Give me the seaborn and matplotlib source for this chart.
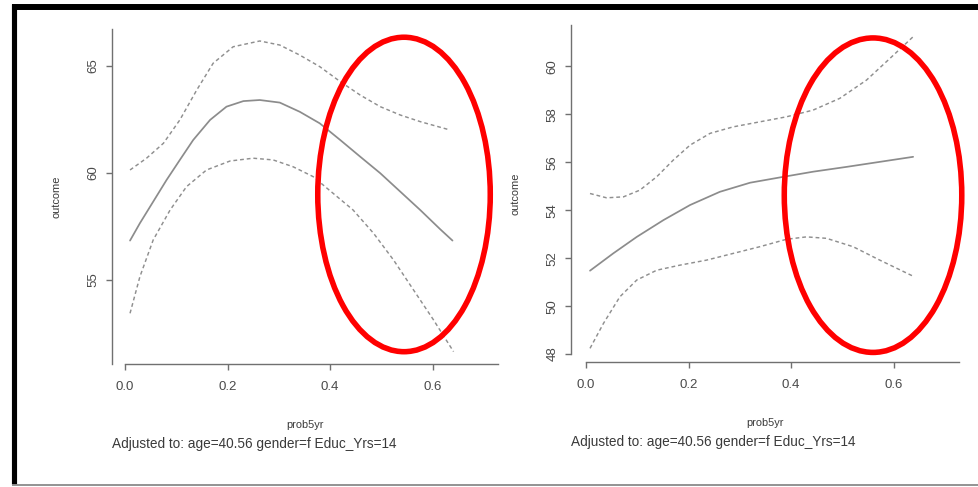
import matplotlib
matplotlib.use("Agg")
import matplotlib.pyplot as plt
from matplotlib.lines import Line2D
from matplotlib.patches import Ellipse
import seaborn as sns
import pandas as pd

# ---------------- data ----------------
# Left panel
left_mid_x = [0.0098, 0.029, 0.055, 0.081, 0.107, 0.133, 0.166, 0.198, 0.231, 0.263,
              0.302, 0.341, 0.380, 0.420, 0.459, 0.498, 0.537, 0.576, 0.615, 0.639]
left_mid_y = [56.84, 57.65, 58.66, 59.67, 60.61, 61.54, 62.48, 63.10, 63.36, 63.41,
              63.29, 62.86, 62.32, 61.54, 60.76, 59.99, 59.13, 58.27, 57.37, 56.84]
left_up_x = [0.0098, 0.042, 0.075, 0.107, 0.140, 0.172, 0.211, 0.263, 0.302, 0.341,
             0.380, 0.420, 0.459, 0.498, 0.537, 0.576, 0.634]
left_up_y = [60.14, 60.69, 61.39, 62.48, 63.88, 65.13, 65.90, 66.17, 65.98, 65.51,
             64.97, 64.27, 63.64, 63.10, 62.71, 62.40, 62.01]
left_lo_x = [0.0098, 0.029, 0.055, 0.088, 0.120, 0.159, 0.205, 0.250, 0.289, 0.328,
             0.367, 0.406, 0.445, 0.485, 0.524, 0.563, 0.602, 0.641]
left_lo_y = [53.44, 55.15, 56.87, 58.27, 59.36, 60.14, 60.56, 60.69, 60.61, 60.29,
             59.83, 59.05, 58.27, 57.18, 55.93, 54.53, 53.13, 51.65]

# Right panel
right_mid_x = [0.0078, 0.053, 0.099, 0.151, 0.203, 0.261, 0.320, 0.378, 0.443, 0.508, 0.573, 0.638]
right_mid_y = [51.48, 52.20, 52.89, 53.59, 54.22, 54.77, 55.15, 55.37, 55.61, 55.81, 56.02, 56.23]
right_up_x = [0.0078, 0.040, 0.073, 0.105, 0.138, 0.170, 0.203, 0.242, 0.287, 0.339,
              0.391, 0.443, 0.495, 0.547, 0.593, 0.638]
right_up_y = [54.70, 54.52, 54.56, 54.84, 55.40, 56.09, 56.72, 57.21, 57.48, 57.69,
              57.90, 58.18, 58.67, 59.43, 60.34, 61.24]
right_lo_x = [0.0078, 0.034, 0.066, 0.099, 0.138, 0.183, 0.235, 0.287, 0.339, 0.391,
              0.430, 0.469, 0.521, 0.573, 0.638]
right_lo_y = [48.24, 49.28, 50.39, 51.09, 51.50, 51.71, 51.92, 52.20, 52.48, 52.79,
              52.89, 52.83, 52.48, 51.92, 51.25]

x_ticks = [0.0, 0.2, 0.4, 0.6]
x_tick_labels = ["0.0", "0.2", "0.4", "0.6"]
left_y_ticks = [55, 60, 65]
right_y_ticks = [48, 50, 52, 54, 56, 58, 60]

x_label = "prob5yr"
y_label = "outcome"
note = "Adjusted to: age=40.56 gender=f Educ_Yrs=14"

# ---------------- style ----------------
sns.set_theme(style="white")
plt.rcParams["font.family"] = ["Liberation Sans", "DejaVu Sans"]

W, H = 979, 487
fig = plt.figure(figsize=(W / 100, H / 100), dpi=100)
fig.patch.set_facecolor("white")

line_col = "#8c8c8c"
dash_col = "#8f8f8f"
axis_col = "#707070"
text_col = "#3a3a3a"
dash_style = (0, (2.6, 2.0))


def panel(ax, mid, up, lo, yticks, xlim, ylim, ybound_low):
    for (xs, ys), ls, c, w in ((mid, "-", line_col, 1.25),
                               (up, dash_style, dash_col, 1.05),
                               (lo, dash_style, dash_col, 1.05)):
        df = pd.DataFrame({"x": xs, "y": ys})
        sns.lineplot(data=df, x="x", y="y", ax=ax, color=c, lw=w,
                     linestyle=ls, errorbar=None, sort=False)
    ax.set_xlim(*xlim)
    ax.set_ylim(*ylim)
    ax.set_facecolor("white")
    for s in ("top", "right"):
        ax.spines[s].set_visible(False)
    for s in ("left", "bottom"):
        ax.spines[s].set_color(axis_col)
        ax.spines[s].set_linewidth(1.0)
    ax.spines["bottom"].set_bounds(0.0, xlim[1])
    ax.spines["left"].set_bounds(ybound_low, ylim[1])
    ax.set_xticks(x_ticks)
    ax.set_xticklabels(x_tick_labels)
    ax.set_yticks(yticks)
    ax.set_yticklabels([str(v) for v in yticks], rotation=90, va="center")
    ax.tick_params(axis="both", which="major", length=4, width=1.0, color=axis_col,
                   labelsize=9.5, labelcolor="#4a4a4a", direction="out",
                   bottom=True, left=True)
    ax.tick_params(axis="x", pad=8.5)
    ax.tick_params(axis="y", pad=5)
    ax.set_xlabel(x_label, fontsize=7.9, color=text_col)
    ax.set_ylabel(y_label, fontsize=7.9, color=text_col)
    ax.grid(False)


ax1 = fig.add_axes([112 / W, 1 - 364 / H, 386 / W, 335 / H])
panel(ax1, (left_mid_x, left_mid_y), (left_up_x, left_up_y), (left_lo_x, left_lo_y),
      left_y_ticks, (-0.0254, 0.7278), (51.07, 66.73), 51.07)
ax1.xaxis.set_label_coords(0.5, -0.182)
ax1.xaxis.label.set_va("center")
ax1.yaxis.set_label_coords(-0.1425, 0.5)
ax1.yaxis.label.set_va("center")
ax1.text(0.0, -0.239, note, transform=ax1.transAxes, ha="left", va="center",
         fontsize=9.8, color=text_col)

ax2 = fig.add_axes([571 / W, 1 - 362 / H, 388 / W, 337 / H])
panel(ax2, (right_mid_x, right_mid_y), (right_up_x, right_up_y), (right_lo_x, right_lo_y),
      right_y_ticks, (-0.0293, 0.7275), (47.67, 61.73), 48)
ax2.xaxis.set_label_coords(0.5, -0.181)
ax2.xaxis.label.set_va("center")
ax2.yaxis.set_label_coords(-0.144, 0.5)
ax2.yaxis.label.set_va("center")
ax2.text(0.0, -0.237, note, transform=ax2.transAxes, ha="left", va="center",
         fontsize=9.8, color=text_col)

# red highlight ellipses
ax1.add_patch(Ellipse((0.5444, 58.995), 0.3366, 14.70, fill=False, edgecolor="#ff0000",
                      lw=4.0, clip_on=False, zorder=10))
ax2.add_patch(Ellipse((0.5598, 54.63), 0.3462, 13.12, fill=False, edgecolor="#ff0000",
                      lw=4.0, clip_on=False, zorder=10))

# screenshot frame
fig.add_artist(Line2D([12 / W, 1.0], [1 - 7 / H, 1 - 7 / H], transform=fig.transFigure,
                      color="black", lw=4.3, solid_capstyle="butt"))
fig.add_artist(Line2D([14.5 / W, 14.5 / W], [1 - 484 / H, 1 - 4 / H], transform=fig.transFigure,
                      color="black", lw=3.7, solid_capstyle="butt"))
fig.add_artist(Line2D([12 / W, 1.0], [1 - 485 / H, 1 - 485 / H], transform=fig.transFigure,
                      color="#8a8a8a", lw=1.3, solid_capstyle="butt"))

fig.savefig("out.png", dpi=100, facecolor="white")
